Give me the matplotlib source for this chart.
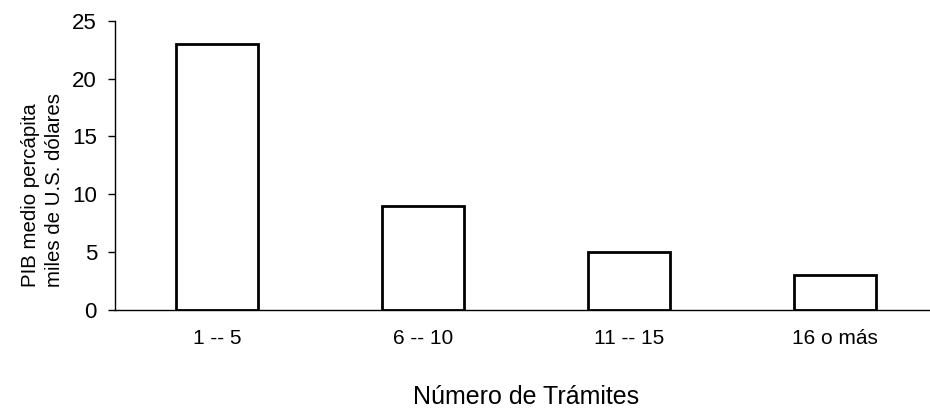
import numpy as np
import matplotlib
matplotlib.use("Agg")
import matplotlib.pyplot as plt

categories = ["1 -- 5", "6 -- 10", "11 -- 15", "16 o más"]
gdp_values = [23, 9, 5, 3]
y_ticks = [0, 5, 10, 15, 20, 25]

plt.rcParams['font.family'] = ['Liberation Sans', 'DejaVu Sans']

fig = plt.figure(figsize=(9.3, 4.11), dpi=100, facecolor='w')
ax = fig.add_axes([115 / 930, 1 - 310 / 411, 815 / 930, (310 - 20.7) / 411])

x = np.arange(len(categories))
ax.bar(x, gdp_values, width=0.4, color='white', edgecolor='black', linewidth=2)

ax.set_xlim(-0.495, 3.46)
ax.set_ylim(0, 25)
ax.set_yticks(y_ticks)
ax.set_xticks(x)
ax.set_xticklabels(categories, fontsize=15)
ax.tick_params(axis='x', length=0, pad=14)
ax.tick_params(axis='y', length=5, width=1, labelsize=16, pad=8, direction='out')

for side in ['top', 'right']:
    ax.spines[side].set_visible(False)
for side in ['left', 'bottom']:
    ax.spines[side].set_linewidth(1)

ax.set_ylabel("PIB medio percápita\nmiles de U.S. dólares", fontsize=14.7,
              linespacing=1.3, multialignment='left')
ax.yaxis.set_label_coords(-0.063, 0.415)
ax.set_xlabel("Número de Trámites", fontsize=18)
ax.xaxis.set_label_coords(0.504, -0.26)

fig.savefig("out.png", dpi=100)
